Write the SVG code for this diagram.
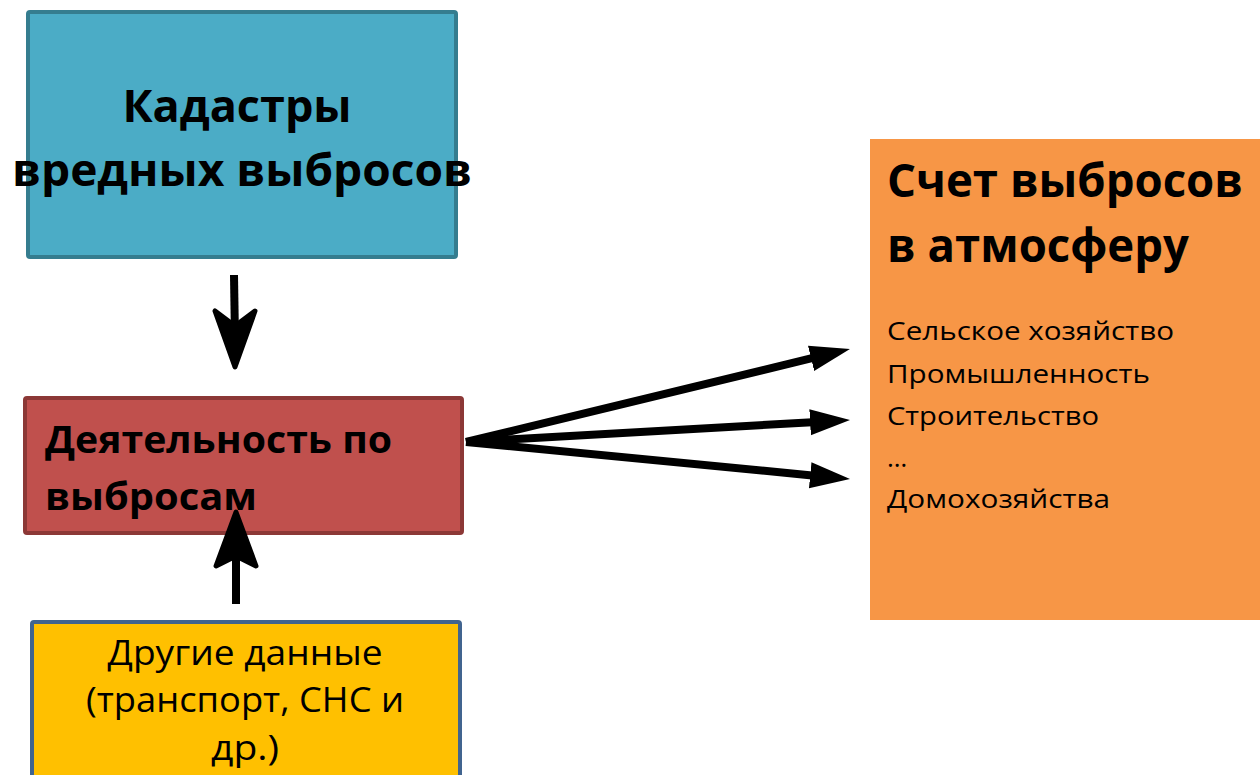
<svg xmlns="http://www.w3.org/2000/svg" width="1260" height="775" viewBox="0 0 1260 775">
<style>
.t{font-family:"Open Sans","Noto Sans","Liberation Sans",sans-serif;fill:#000}
.b{font-weight:bold}
.conn{stroke:#000;stroke-width:8;fill:none}
</style>
<defs>
<marker id="ah" markerUnits="userSpaceOnUse" markerWidth="44" markerHeight="30" refX="2" refY="15" orient="auto" viewBox="0 0 44 30">
<path d="M0,2 L40,15 L0,28 Z" fill="#000"/>
</marker>
</defs>
<rect width="1260" height="775" fill="#fff"/>
<g id="node-kadastry">
<rect x="28" y="12" width="428" height="245" rx="2" fill="#4bacc6" stroke="#357d8f" stroke-width="4"/>
<text class="t b" x="237" y="122" font-size="45" text-anchor="middle">Кадастры</text>
<text class="t b" x="242" y="186" font-size="45" text-anchor="middle" textLength="460" lengthAdjust="spacingAndGlyphs">вредных выбросов</text>
</g>
<g id="node-activity">
<rect x="25" y="398" width="437" height="135" rx="2" fill="#c0504d" stroke="#8c3836" stroke-width="4"/>
<text class="t b" x="45" y="453" font-size="38" textLength="347" lengthAdjust="spacingAndGlyphs">Деятельность по</text>
<text class="t b" x="45" y="510" font-size="38" textLength="212" lengthAdjust="spacingAndGlyphs">выбросам</text>
</g>
<g id="node-other">
<rect x="32" y="622" width="428" height="160" rx="2" fill="#ffc000" stroke="#41648f" stroke-width="4"/>
<text class="t" x="245" y="665" font-size="35" text-anchor="middle" textLength="275" lengthAdjust="spacingAndGlyphs">Другие данные</text>
<text class="t" x="245" y="712" font-size="35" text-anchor="middle" textLength="318" lengthAdjust="spacingAndGlyphs">(транспорт, СНС и</text>
<text class="t" x="245" y="760" font-size="35" text-anchor="middle" textLength="68" lengthAdjust="spacingAndGlyphs">др.)</text>
</g>
<g id="node-account">
<rect x="870" y="139" width="390" height="481" fill="#f79646"/>
<text class="t b" x="887" y="197" font-size="47" textLength="356" lengthAdjust="spacingAndGlyphs">Счет выбросов</text>
<text class="t b" x="887" y="262" font-size="47" textLength="302" lengthAdjust="spacingAndGlyphs">в атмосферу</text>
<g font-size="26">
<text class="t" x="887" y="340" textLength="287" lengthAdjust="spacingAndGlyphs">Сельское хозяйство</text>
<text class="t" x="887" y="383" textLength="263" lengthAdjust="spacingAndGlyphs">Промышленность</text>
<text class="t" x="887" y="425" textLength="212" lengthAdjust="spacingAndGlyphs">Строительство</text>
<text class="t" x="887" y="467">…</text>
<text class="t" x="887" y="508" textLength="223" lengthAdjust="spacingAndGlyphs">Домохозяйства</text>
</g>
</g>
<g id="connectors">
<line class="conn" x1="234" y1="275" x2="235" y2="340"/>
<path d="M215,311 L235,367 L255,311 L235,326 Z" fill="#000" stroke="#000" stroke-width="5" stroke-linejoin="round"/>
<line class="conn" x1="236" y1="604" x2="236" y2="540"/>
<path d="M216,566 L236,512 L256,566 L236,556 Z" fill="#000" stroke="#000" stroke-width="5" stroke-linejoin="round"/>
<line class="conn" x1="466" y1="442" x2="813" y2="357.9" marker-end="url(#ah)"/>
<line class="conn" x1="466" y1="442" x2="812.1" y2="422.2" marker-end="url(#ah)"/>
<line class="conn" x1="466" y1="442" x2="812.2" y2="475.4" marker-end="url(#ah)"/>
</g>
</svg>
